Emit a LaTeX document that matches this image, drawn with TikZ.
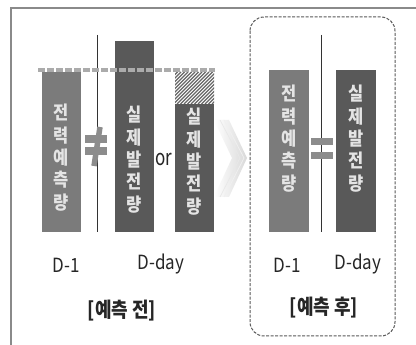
\documentclass[tikz,border=0pt]{standalone}
\usepackage{fontspec}
\usepackage{graphicx}
\setmainfont{Noto Sans CJK KR}
\usetikzlibrary{shadings}
\definecolor{barA}{HTML}{7B7B7B}
\definecolor{barB}{HTML}{595959}
\definecolor{bartext}{HTML}{E4E4E4}
\definecolor{frameg}{HTML}{8A8A8A}
\definecolor{dashg}{HTML}{ABABAB}
\definecolor{symg}{HTML}{8C8C8C}
\newcommand\barstack[5]{\scalebox{1}[1.12]{\begin{tabular}{@{}c@{}}#1\\#2\\#3\\#4\\#5\end{tabular}}}
\newcommand\tallish[1]{\scalebox{1}[1.15]{#1}}
\begin{document}
\begin{tikzpicture}[x=1pt,y=-1pt,
  bar/.style={draw=none, inner sep=0pt, outer sep=0pt, anchor=north west},
  bartxt/.style={text=bartext, font=\fontsize{16.5}{20}\selectfont\bfseries, inner sep=0pt},
  lbl/.style={font=\fontsize{17}{19}\selectfont, text=black!85, inner sep=0pt},
  ttl/.style={font=\fontsize{18}{20}\selectfont\bfseries, text=black!85, inner sep=0pt},
  sym/.style={fill=symg, draw=none, inner sep=0pt, minimum width=22pt, minimum height=7.5pt},
  vline/.style={black!80, line width=0.8pt},
]
\useasboundingbox (0,0) rectangle (416,345);
\fill[white] (0,0) rectangle (416,345);
\coordinate (fb) at (11,345); \coordinate (fc) at (11,8); \coordinate (fr) at (416,8);
\draw[frameg, line width=1.5pt] (fb) -- (fc) -- (fr);

% ---- left panel ----
\coordinate (vt1) at (97,35); \coordinate (vb1) at (97,232);
\draw[vline] (vt1) -- (vb1);
\node[bar, fill=barA, minimum width=39pt, minimum height=160pt] (b1) at (42,72) {};
\node[bar, fill=barB, minimum width=39pt, minimum height=191pt] (b2) at (115,41) {};
\node[bar, minimum width=39pt, minimum height=32pt] (h3) at (175,72) {};
\begin{scope}
  \clip (h3.north west) rectangle (h3.south east);
  \foreach \i in {-40,-36.5,...,44} \draw[black!60, line width=1.1pt] (175+\i,104) -- (207+\i,72);
\end{scope}
\node[bar, fill=barB, minimum width=39pt, minimum height=128pt] (b3) at (175,104) {};
\coordinate (d0) at (38,70); \coordinate (d1) at (215,70);
\draw[dashg, line width=3.5pt, dash pattern=on 7pt off 2pt] (d0) -- (d1);

\node[bartxt] (t1) at (61.5,160) {\barstack{전}{력}{예}{측}{량}};
\node[bartxt] (t2) at (134.5,162) {\barstack{실}{제}{발}{전}{량}};
\node[bartxt] (t3) at (194.5,164) {\barstack{실}{제}{발}{전}{량}};

% not-equal sign
\node[sym] (ne1) at (96,139) {};
\node[sym] (ne2) at (96,151) {};
\coordinate (ns0) at (100,127); \coordinate (ns1) at (94,166);
\draw[symg, line width=5.5pt] (ns0) -- (ns1);

\node[font=\fontsize{17}{19}\selectfont, text=black!85, inner sep=0pt] (or) at (164,159) {\scalebox{1}[1.3]{or}};

% chevron (faded)
\shade[left color=white, right color=gray!30] (214,120) -- (229,120) -- (247,158) -- (229,197) -- (214,197) -- (232,158) -- cycle;
\draw[gray!18, line width=0.7pt] (220,120) -- (240,158) -- (220,197);
\draw[gray!12, line width=0.7pt] (224,120) -- (244,158) -- (224,197);

\node[lbl] (l1) at (66,265) {\tallish{D-1}};
\node[lbl] (l2) at (161,264) {\tallish{D-day}};
\node[ttl] (g1) at (122,311) {\tallish{[예측 전]}};

% ---- right panel ----
\coordinate (bx0) at (250,17); \coordinate (bx1) at (395,336);
\draw[black!65, line width=1pt, dash pattern=on 3pt off 1.5pt, rounded corners=14pt] (bx0) rectangle (bx1);
\coordinate (vt2) at (321,35); \coordinate (vb2) at (321,232);
\draw[vline] (vt2) -- (vb2);
\node[bar, fill=barA, minimum width=40pt, minimum height=162pt] (b4) at (269,70) {};
\node[bar, fill=barB, minimum width=40pt, minimum height=162pt] (b5) at (336,70) {};
\node[bartxt] (t4) at (289,141) {\barstack{전}{력}{예}{측}{량}};
\node[bartxt] (t5) at (356,141) {\barstack{실}{제}{발}{전}{량}};
\node[sym] (eq1) at (321.5,141.5) {};
\node[sym] (eq2) at (321.5,155.5) {};

\node[lbl] (l3) at (287,265) {\tallish{D-1}};
\node[lbl] (l4) at (358,264) {\tallish{D-day}};
\node[ttl] (g2) at (324,308) {\tallish{[예측 후]}};
\end{tikzpicture}
\end{document}
